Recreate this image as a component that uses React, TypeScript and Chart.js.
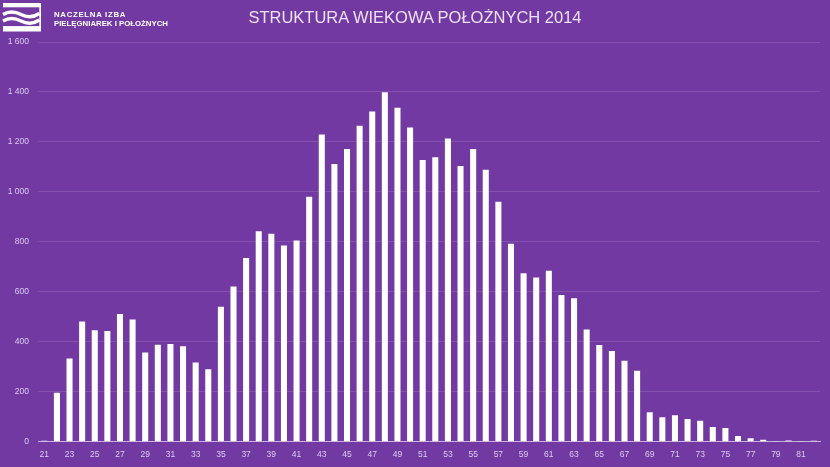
import React, { useEffect, useRef } from 'react';
import { Chart, registerables } from 'chart.js';

Chart.register(...registerables);

const ages = [
  '21', '22', '23', '24', '25', '26', '27', '28', '29', '30',
  '31', '32', '33', '34', '35', '36', '37', '38', '39', '40',
  '41', '42', '43', '44', '45', '46', '47', '48', '49', '50',
  '51', '52', '53', '54', '55', '56', '57', '58', '59', '60',
  '61', '62', '63', '64', '65', '66', '67', '68', '69', '70',
  '71', '72', '73', '74', '75', '76', '77', '78', '79', '80',
  '81', '82',
];

const midwives = [
  4, 196, 333, 481, 446, 443, 511, 489, 357, 388,
  391, 382, 317, 290, 540, 621, 735, 842, 832, 785,
  805, 981, 1230, 1112, 1172, 1265, 1322, 1399, 1337, 1258,
  1128, 1139, 1214, 1104, 1172, 1089, 961, 792, 674, 657,
  684, 587, 574, 449, 387, 363, 324, 284, 118, 98,
  106, 91, 84, 59, 55, 23, 14, 8, 3, 5,
  3, 4,
];

const yMin = 0;
const yMax = 1600;
const yStep = 200;

const titleText = 'STRUKTURA WIEKOWA POŁOŻNYCH 2014';
const logoLine1 = 'NACZELNA IZBA';
const logoLine2 = 'PIELĘGNIAREK I POŁOŻNYCH';

const BG = 'rgb(114, 57, 162)';
const TICK_COLOR = '#dccdf0';

function formatThousands(v: number): string {
  return String(v).replace(/\B(?=(\d{3})+(?!\d))/g, ' ');
}

export default function App() {
  const canvasRef = useRef<HTMLCanvasElement | null>(null);

  useEffect(() => {
    const canvas = canvasRef.current;
    if (!canvas) return;
    const chart = new Chart(canvas, {
      type: 'bar',
      data: {
        labels: ages,
        datasets: [
          {
            data: midwives,
            backgroundColor: '#ffffff',
            borderWidth: 0,
            barPercentage: 0.48,
            categoryPercentage: 1,
          },
        ],
      },
      options: {
        responsive: false,
        animation: false,
        devicePixelRatio: 1,
        layout: { padding: { top: 42, right: 10, left: 0, bottom: 0 } },
        plugins: {
          legend: { display: false },
          title: { display: false },
          tooltip: { enabled: false },
        },
        scales: {
          x: {
            grid: { display: false, drawTicks: false },
            border: { display: true, color: '#c7b0e2', width: 1 },
            ticks: {
              autoSkip: false,
              maxRotation: 0,
              minRotation: 0,
              padding: 8,
              color: TICK_COLOR,
              font: { family: 'Liberation Sans', size: 8.5 },
              callback: (_v: any, i: number) => (i % 2 === 0 ? ages[i] : ''),
            },
            afterFit: (s: any) => {
              s.height = 25.3;
            },
          },
          y: {
            min: yMin,
            max: yMax,
            grid: { color: 'rgba(255,255,255,0.13)', lineWidth: 1, drawTicks: false },
            border: { display: false },
            ticks: {
              stepSize: yStep,
              padding: 9,
              color: TICK_COLOR,
              font: { family: 'Liberation Sans', size: 8.5 },
              callback: (v: any) => formatThousands(Number(v)),
            },
            afterFit: (s: any) => {
              s.width = 38;
            },
          },
        },
      },
    });
    return () => chart.destroy();
  }, []);

  return (
    <div
      style={{
        position: 'absolute',
        left: 0,
        top: 0,
        width: 830,
        height: 467,
        background: BG,
        overflow: 'hidden',
      }}
    >
      <canvas
        ref={canvasRef}
        width={830}
        height={467}
        style={{ position: 'absolute', left: 0, top: 0, width: 830, height: 467 }}
      />
      <svg
        width={40}
        height={32}
        style={{ position: 'absolute', left: 2, top: 2 }}
        viewBox="0 0 40 32"
      >
        <rect x={1} y={1} width={38} height={28.5} fill="#ffffff" />
        <rect x={1} y={5.3} width={36.3} height={18.8} fill={BG} />
        <path d="M1 12.5 Q 9.5 7.5, 19 12.5 T 37.3 11.5" stroke="#ffffff" strokeWidth={3.4} fill="none" />
        <path d="M1 19 Q 9.5 14, 19 19 T 37.3 18" stroke="#ffffff" strokeWidth={3.4} fill="none" />
      </svg>
      <div
        style={{
          position: 'absolute',
          left: 54,
          top: 9.5,
          color: '#ffffff',
          fontFamily: 'Liberation Sans, Arial, sans-serif',
          fontWeight: 700,
          fontSize: 7.8,
          lineHeight: '9.4px',
          whiteSpace: 'nowrap',
        }}
      >
        <div style={{ letterSpacing: 0.7 }}>{logoLine1}</div>
        <div style={{ letterSpacing: 0 }}>{logoLine2}</div>
      </div>
      <div
        style={{
          position: 'absolute',
          left: 0,
          width: 830,
          top: 6,
          textAlign: 'center',
          color: '#ece2f7',
          fontFamily: 'Liberation Sans, Arial, sans-serif',
          fontSize: 16.5,
          lineHeight: '22px',
          whiteSpace: 'nowrap',
        }}
      >
        <span>{titleText}</span>
      </div>
    </div>
  );
}
